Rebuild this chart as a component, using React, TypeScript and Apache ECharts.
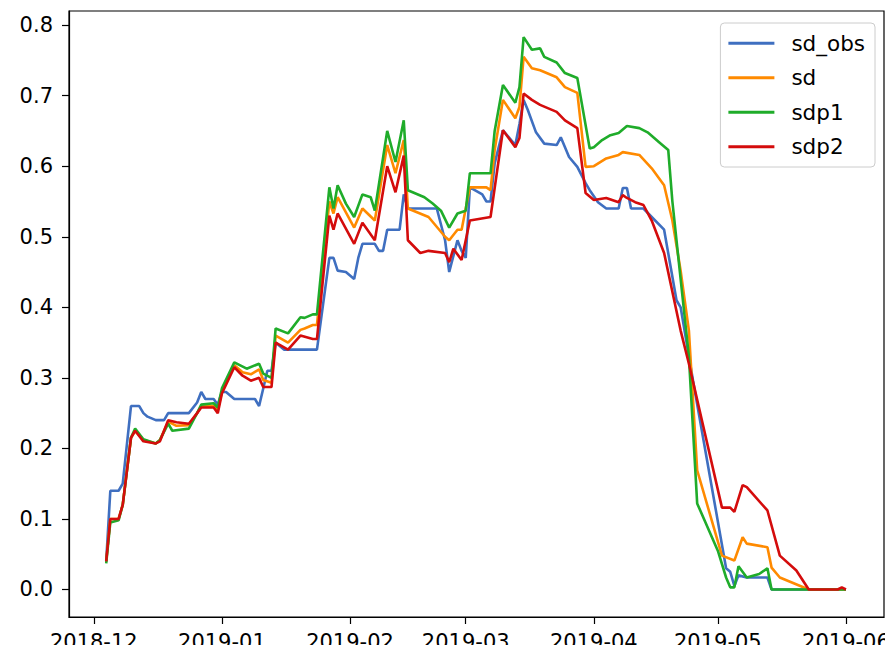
import React, { useEffect, useRef } from "react";
import * as echarts from "echarts";

const monthTicks = ["2018-12", "2019-01", "2019-02", "2019-03", "2019-04", "2019-05", "2019-06"];
const yTicks = [0.0, 0.1, 0.2, 0.3, 0.4, 0.5, 0.6, 0.7, 0.8];
const seriesNames = ["sd_obs", "sd", "sdp1", "sdp2"];
const seriesColors = ["#3f6fc0", "#ff8a00", "#1fac2a", "#d40c0c"];

const sdObs: [string, number][] = [
  ["2018-12-04", 0.04], ["2018-12-05", 0.14], ["2018-12-07", 0.14], ["2018-12-08", 0.15],
  ["2018-12-10", 0.26], ["2018-12-12", 0.26], ["2018-12-13", 0.25], ["2018-12-14", 0.245],
  ["2018-12-16", 0.24], ["2018-12-18", 0.24], ["2018-12-19", 0.25], ["2018-12-24", 0.25],
  ["2018-12-26", 0.265], ["2018-12-27", 0.28], ["2018-12-28", 0.27], ["2018-12-30", 0.27],
  ["2018-12-31", 0.262], ["2019-01-01", 0.28], ["2019-01-02", 0.28], ["2019-01-04", 0.27],
  ["2019-01-09", 0.27], ["2019-01-10", 0.26], ["2019-01-11", 0.285], ["2019-01-12", 0.31],
  ["2019-01-13", 0.31], ["2019-01-14", 0.35], ["2019-01-16", 0.34], ["2019-01-24", 0.34],
  ["2019-01-27", 0.47], ["2019-01-28", 0.47], ["2019-01-29", 0.452], ["2019-01-31", 0.45],
  ["2019-02-02", 0.44], ["2019-02-03", 0.47], ["2019-02-04", 0.49], ["2019-02-07", 0.49],
  ["2019-02-08", 0.48], ["2019-02-09", 0.48], ["2019-02-10", 0.51], ["2019-02-13", 0.51],
  ["2019-02-14", 0.56], ["2019-02-15", 0.54], ["2019-02-22", 0.54], ["2019-02-24", 0.495],
  ["2019-02-25", 0.45], ["2019-02-27", 0.495], ["2019-02-28", 0.48], ["2019-03-01", 0.47],
  ["2019-03-02", 0.57], ["2019-03-05", 0.56], ["2019-03-06", 0.55], ["2019-03-07", 0.55],
  ["2019-03-08", 0.604], ["2019-03-10", 0.651], ["2019-03-13", 0.63], ["2019-03-14", 0.66],
  ["2019-03-15", 0.694], ["2019-03-16", 0.68], ["2019-03-18", 0.648], ["2019-03-20", 0.632],
  ["2019-03-23", 0.63], ["2019-03-24", 0.641], ["2019-03-26", 0.613], ["2019-03-28", 0.599],
  ["2019-03-30", 0.576], ["2019-03-31", 0.566], ["2019-04-02", 0.549], ["2019-04-04", 0.54],
  ["2019-04-07", 0.54], ["2019-04-08", 0.569], ["2019-04-09", 0.569], ["2019-04-10", 0.54],
  ["2019-04-13", 0.54], ["2019-04-15", 0.528], ["2019-04-18", 0.51], ["2019-04-21", 0.41],
  ["2019-04-22", 0.4], ["2019-04-25", 0.296], ["2019-05-03", 0.03], ["2019-05-04", 0.025],
  ["2019-05-05", 0.005], ["2019-05-06", 0.02], ["2019-05-08", 0.017], ["2019-05-13", 0.017],
  ["2019-05-14", 0.0], ["2019-06-01", 0.0],
];

const sd: [string, number][] = [
  ["2018-12-04", 0.04], ["2018-12-05", 0.1], ["2018-12-07", 0.1], ["2018-12-08", 0.12],
  ["2018-12-10", 0.215], ["2018-12-11", 0.225], ["2018-12-13", 0.212], ["2018-12-16", 0.207],
  ["2018-12-17", 0.212], ["2018-12-19", 0.238], ["2018-12-21", 0.232], ["2018-12-24", 0.233],
  ["2018-12-26", 0.25], ["2018-12-27", 0.26], ["2018-12-30", 0.26], ["2018-12-31", 0.255],
  ["2019-01-01", 0.28], ["2019-01-04", 0.318], ["2019-01-06", 0.308], ["2019-01-08", 0.305],
  ["2019-01-10", 0.312], ["2019-01-11", 0.297], ["2019-01-13", 0.293], ["2019-01-14", 0.36],
  ["2019-01-17", 0.35], ["2019-01-20", 0.368], ["2019-01-21", 0.37], ["2019-01-23", 0.375],
  ["2019-01-24", 0.375], ["2019-01-27", 0.55], ["2019-01-28", 0.533], ["2019-01-29", 0.556],
  ["2019-02-02", 0.513], ["2019-02-04", 0.54], ["2019-02-07", 0.523], ["2019-02-10", 0.63],
  ["2019-02-12", 0.59], ["2019-02-14", 0.637], ["2019-02-15", 0.54], ["2019-02-20", 0.528],
  ["2019-02-24", 0.5], ["2019-02-25", 0.495], ["2019-02-27", 0.51], ["2019-02-28", 0.51],
  ["2019-03-02", 0.57], ["2019-03-06", 0.57], ["2019-03-07", 0.566], ["2019-03-08", 0.623],
  ["2019-03-10", 0.694], ["2019-03-13", 0.668], ["2019-03-14", 0.684], ["2019-03-15", 0.755],
  ["2019-03-17", 0.739], ["2019-03-19", 0.736], ["2019-03-23", 0.726], ["2019-03-25", 0.712],
  ["2019-03-28", 0.704], ["2019-03-30", 0.599], ["2019-04-01", 0.6], ["2019-04-04", 0.611],
  ["2019-04-07", 0.616], ["2019-04-08", 0.62], ["2019-04-12", 0.616], ["2019-04-15", 0.597],
  ["2019-04-18", 0.573], ["2019-04-20", 0.523], ["2019-04-22", 0.452], ["2019-04-24", 0.367],
  ["2019-04-26", 0.169], ["2019-05-02", 0.048], ["2019-05-05", 0.041], ["2019-05-07", 0.074],
  ["2019-05-08", 0.065], ["2019-05-13", 0.06], ["2019-05-14", 0.031], ["2019-05-16", 0.017],
  ["2019-05-23", 0.0], ["2019-06-01", 0.0],
];

const sdp1: [string, number][] = [
  ["2018-12-04", 0.037], ["2018-12-05", 0.095], ["2018-12-07", 0.098], ["2018-12-08", 0.12],
  ["2018-12-10", 0.215], ["2018-12-11", 0.228], ["2018-12-13", 0.213], ["2018-12-16", 0.207],
  ["2018-12-17", 0.212], ["2018-12-19", 0.235], ["2018-12-20", 0.225], ["2018-12-24", 0.228],
  ["2018-12-26", 0.25], ["2018-12-27", 0.262], ["2018-12-30", 0.264], ["2018-12-31", 0.258],
  ["2019-01-01", 0.285], ["2019-01-04", 0.322], ["2019-01-07", 0.313], ["2019-01-10", 0.32],
  ["2019-01-11", 0.306], ["2019-01-13", 0.3], ["2019-01-14", 0.37], ["2019-01-17", 0.363],
  ["2019-01-20", 0.386], ["2019-01-21", 0.385], ["2019-01-23", 0.39], ["2019-01-24", 0.39],
  ["2019-01-27", 0.57], ["2019-01-28", 0.54], ["2019-01-29", 0.573], ["2019-01-31", 0.547],
  ["2019-02-02", 0.528], ["2019-02-04", 0.56], ["2019-02-06", 0.556], ["2019-02-07", 0.537],
  ["2019-02-10", 0.65], ["2019-02-12", 0.606], ["2019-02-14", 0.665], ["2019-02-15", 0.566],
  ["2019-02-19", 0.556], ["2019-02-21", 0.547], ["2019-02-23", 0.537], ["2019-02-25", 0.513],
  ["2019-02-27", 0.533], ["2019-03-01", 0.537], ["2019-03-02", 0.59], ["2019-03-07", 0.59],
  ["2019-03-08", 0.65], ["2019-03-10", 0.715], ["2019-03-13", 0.69], ["2019-03-14", 0.712],
  ["2019-03-15", 0.783], ["2019-03-17", 0.765], ["2019-03-19", 0.767], ["2019-03-20", 0.755],
  ["2019-03-23", 0.747], ["2019-03-25", 0.732], ["2019-03-28", 0.725], ["2019-03-31", 0.625],
  ["2019-04-01", 0.627], ["2019-04-03", 0.637], ["2019-04-05", 0.644], ["2019-04-07", 0.647],
  ["2019-04-09", 0.657], ["2019-04-12", 0.654], ["2019-04-14", 0.648], ["2019-04-17", 0.633],
  ["2019-04-19", 0.623], ["2019-04-20", 0.55], ["2019-04-22", 0.44], ["2019-04-24", 0.33],
  ["2019-04-26", 0.122], ["2019-05-01", 0.055], ["2019-05-03", 0.017], ["2019-05-04", 0.003],
  ["2019-05-05", 0.003], ["2019-05-06", 0.033], ["2019-05-08", 0.017], ["2019-05-11", 0.022],
  ["2019-05-13", 0.03], ["2019-05-14", 0.0], ["2019-06-01", 0.0],
];

const sdp2: [string, number][] = [
  ["2018-12-04", 0.04], ["2018-12-05", 0.1], ["2018-12-07", 0.1], ["2018-12-08", 0.12],
  ["2018-12-10", 0.215], ["2018-12-11", 0.225], ["2018-12-13", 0.21], ["2018-12-16", 0.207],
  ["2018-12-17", 0.21], ["2018-12-19", 0.24], ["2018-12-21", 0.237], ["2018-12-24", 0.235],
  ["2018-12-26", 0.25], ["2018-12-27", 0.258], ["2018-12-30", 0.258], ["2018-12-31", 0.25],
  ["2019-01-01", 0.278], ["2019-01-04", 0.315], ["2019-01-06", 0.303], ["2019-01-08", 0.296],
  ["2019-01-10", 0.3], ["2019-01-11", 0.287], ["2019-01-13", 0.287], ["2019-01-14", 0.35],
  ["2019-01-17", 0.34], ["2019-01-20", 0.36], ["2019-01-23", 0.355], ["2019-01-24", 0.355],
  ["2019-01-27", 0.53], ["2019-01-28", 0.51], ["2019-01-29", 0.533], ["2019-02-02", 0.49],
  ["2019-02-04", 0.52], ["2019-02-07", 0.495], ["2019-02-10", 0.6], ["2019-02-12", 0.563],
  ["2019-02-14", 0.615], ["2019-02-15", 0.495], ["2019-02-18", 0.477], ["2019-02-20", 0.48],
  ["2019-02-24", 0.477], ["2019-02-25", 0.464], ["2019-02-26", 0.483], ["2019-02-28", 0.467],
  ["2019-03-02", 0.523], ["2019-03-07", 0.528], ["2019-03-10", 0.651], ["2019-03-13", 0.627],
  ["2019-03-14", 0.64], ["2019-03-15", 0.703], ["2019-03-17", 0.694], ["2019-03-19", 0.687],
  ["2019-03-21", 0.682], ["2019-03-23", 0.677], ["2019-03-25", 0.665], ["2019-03-28", 0.654],
  ["2019-03-30", 0.562], ["2019-04-01", 0.552], ["2019-04-04", 0.555], ["2019-04-07", 0.549],
  ["2019-04-08", 0.559], ["2019-04-09", 0.555], ["2019-04-11", 0.549], ["2019-04-13", 0.545],
  ["2019-04-15", 0.523], ["2019-04-18", 0.477], ["2019-04-22", 0.367], ["2019-04-24", 0.32],
  ["2019-05-02", 0.116], ["2019-05-04", 0.116], ["2019-05-05", 0.11], ["2019-05-07", 0.148],
  ["2019-05-08", 0.145], ["2019-05-13", 0.112], ["2019-05-16", 0.048], ["2019-05-20", 0.027],
  ["2019-05-23", 0.0], ["2019-05-30", 0.0], ["2019-05-31", 0.003], ["2019-06-01", 0.0],
];

const allSeries = [sdObs, sd, sdp1, sdp2];

const FONT = "DejaVu Sans";

function monthToTime(m: string): number {
  const [y, mo] = m.split("-").map(Number);
  return Date.UTC(y, mo - 1, 1);
}

function dayToTime(s: string): number {
  const [y, mo, d] = s.split("-").map(Number);
  return Date.UTC(y, mo - 1, d);
}

export default function App() {
  const ref = useRef<HTMLDivElement>(null);
  useEffect(() => {
    document.body.style.margin = "0";
    if (!ref.current) return;
    const chart = echarts.init(ref.current, null, { renderer: "svg" });
    const xMin = Date.UTC(2018, 10, 25, 0);
    const xMax = Date.UTC(2019, 5, 10, 5);
    const xTickValues = monthTicks.map(monthToTime);
    chart.setOption({
      animation: false,
      backgroundColor: "#ffffff",
      grid: {
        left: 69,
        right: 1,
        top: 11,
        bottom: 28,
        show: true,
        borderColor: "#000",
        borderWidth: 1.2,
        containLabel: false,
        outerBoundsMode: "none",
      },
      legend: {
        orient: "vertical",
        right: 10,
        top: 23,
        padding: [8, 10, 8, 8],
        itemWidth: 46,
        itemHeight: 3,
        itemGap: 10,
        icon: "rect",
        backgroundColor: "rgba(255,255,255,0.8)",
        borderColor: "#cccccc",
        borderWidth: 1,
        borderRadius: 4,
        textStyle: {
          fontFamily: FONT,
          fontSize: 21.5,
          lineHeight: 24.5,
          color: "#000",
          padding: [0, 0, 0, 12],
        },
        data: seriesNames,
      },
      xAxis: {
        type: "value",
        min: xMin,
        max: xMax,
        splitLine: { show: false },
        axisLine: { show: true, onZero: false, lineStyle: { color: "#000", width: 1.2 } },
        axisTick: {
          show: true,
          length: 7,
          lineStyle: { color: "#000", width: 1.2 },
          customValues: xTickValues,
        },
        axisLabel: {
          show: true,
          margin: 14,
          fontFamily: FONT,
          fontSize: 21,
          color: "#000",
          hideOverlap: false,
          customValues: xTickValues,
          formatter: (v: number) => {
            const d = new Date(v);
            const mm = String(d.getUTCMonth() + 1).padStart(2, "0");
            return `${d.getUTCFullYear()}-${mm}`;
          },
        },
      },
      yAxis: {
        type: "value",
        min: -0.039,
        max: 0.82,
        splitLine: { show: false },
        axisLine: { show: true, onZero: false, lineStyle: { color: "#000", width: 1.2 } },
        axisTick: {
          show: true,
          length: 7,
          lineStyle: { color: "#000", width: 1.2 },
          customValues: yTicks,
        },
        axisLabel: {
          show: true,
          margin: 16,
          fontFamily: FONT,
          fontSize: 21,
          color: "#000",
          customValues: yTicks,
          formatter: (v: number) => v.toFixed(1),
        },
      },
      series: allSeries.map((data, i) => ({
        name: seriesNames[i],
        type: "line",
        data: data.map(([d, v]) => [dayToTime(d), v]),
        showSymbol: false,
        symbol: "none",
        color: seriesColors[i],
        lineStyle: { color: seriesColors[i], width: 2.6 },
      })),
    });
    return () => chart.dispose();
  }, []);
  return <div ref={ref} style={{ width: 885, height: 645 }} />;
}
